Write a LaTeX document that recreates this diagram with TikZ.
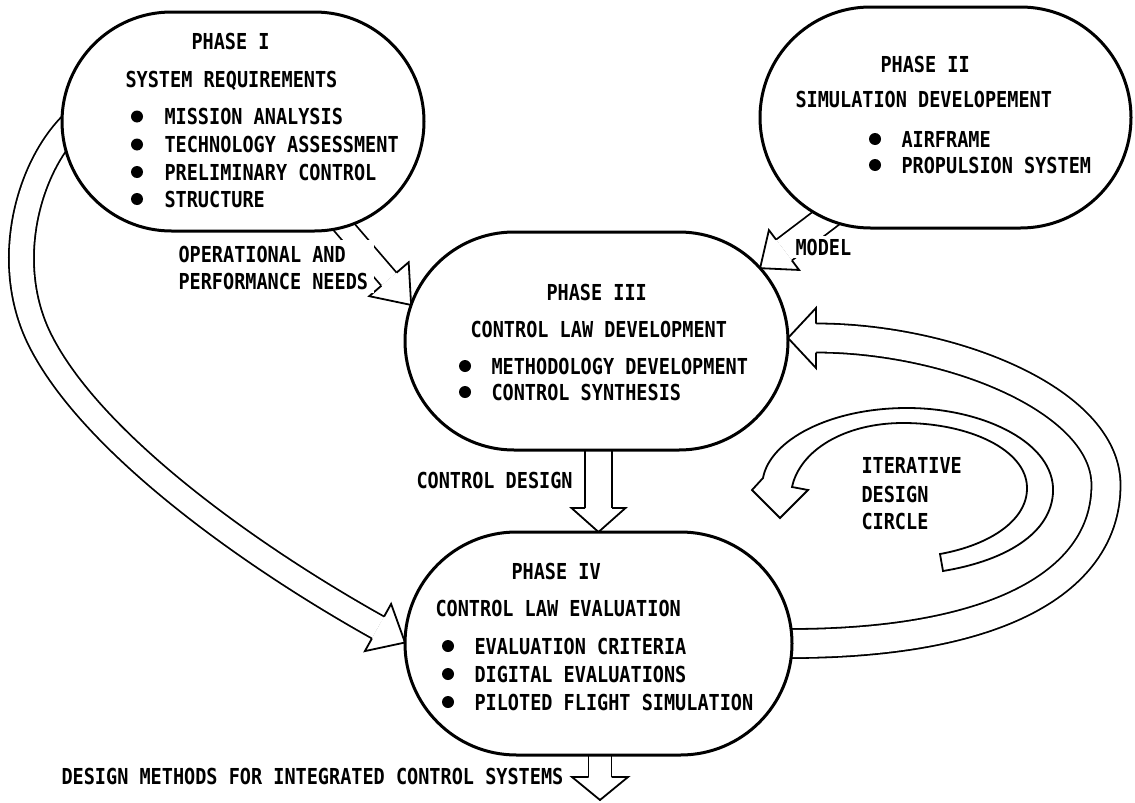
\documentclass[tikz,border=0pt]{standalone}
\usepackage{fontspec}
\setmainfont{DejaVu Sans Mono}[FakeStretch=0.842]
\usetikzlibrary{shapes.misc,calc}
\pgfdeclarelayer{bg}
\pgfsetlayers{bg,main}
\newcommand\hollowhead[4]{%
  \fill[white] ($(#1)!#4!90:(#2)$) -- (#2) -- ($(#1)!#4!-90:(#2)$) -- cycle;
  \draw[arrline] ($(#1)!#3!90:(#2)$) -- ($(#1)!#4!90:(#2)$) -- (#2) -- ($(#1)!#4!-90:(#2)$) -- ($(#1)!#3!-90:(#2)$);}
\begin{document}
\begin{tikzpicture}[x=1pt,y=-1pt,
  phase/.style={rounded rectangle, draw, line width=3pt, fill=white, inner sep=0pt, outer sep=0pt},
  txt/.style={inner sep=0pt, outer sep=0pt, anchor=base west, font=\fontsize{22}{26}\selectfont\bfseries},
  mask/.style={txt, fill=white, inner sep=3pt},
  bul/.style={circle, fill=black, inner sep=0pt, minimum size=12pt},
  arrline/.style={line width=1.8pt, line join=miter, miter limit=4},
  shaft/.style={line width=1.8pt, double=white, double distance=#1},
]
\useasboundingbox (0,0) rectangle (1135,803);

% phase nodes
\node[phase, minimum width=362pt, minimum height=219pt] (p1) at (243,121.5) {};
\node[phase, minimum width=371pt, minimum height=221pt] (p2) at (945.5,117.5) {};
\node[phase, minimum width=383pt, minimum height=218pt] (p3) at (596.5,341) {};
\node[phase, minimum width=387pt, minimum height=223pt] (p4) at (598.5,643.5) {};

% Phase I text
\node[txt] (t1a) at (191.5,49) {PHASE I};
\node[txt] (t1b) at (125.5,87) {SYSTEM REQUIREMENTS};
\node[bul] (b1a) at (137,116.5) {};
\node[txt] (t1c) at (164.5,124) {MISSION ANALYSIS};
\node[bul] (b1b) at (137,144.5) {};
\node[txt] (t1d) at (164.5,152.5) {TECHNOLOGY ASSESSMENT};
\node[bul] (b1c) at (137,172) {};
\node[txt] (t1e) at (164.5,180) {PRELIMINARY CONTROL};
\node[bul] (b1d) at (137,199) {};
\node[txt] (t1f) at (164.5,207) {STRUCTURE};

% Phase II text
\node[txt] (t2a) at (880.5,72) {PHASE II};
\node[txt] (t2b) at (795.5,107) {SIMULATION DEVELOPEMENT};
\node[bul] (b2a) at (875,139) {};
\node[txt] (t2c) at (901.5,147) {AIRFRAME};
\node[bul] (b2b) at (875,165) {};
\node[txt] (t2d) at (901.5,173) {PROPULSION SYSTEM};

% Phase III text
\node[txt] (t3a) at (546.5,300) {PHASE III};
\node[txt] (t3b) at (470.5,337) {CONTROL LAW DEVELOPMENT};
\node[bul] (b3a) at (465,366) {};
\node[txt] (t3c) at (491.5,374) {METHODOLOGY DEVELOPMENT};
\node[bul] (b3b) at (465,392) {};
\node[txt] (t3d) at (491.5,400) {CONTROL SYNTHESIS};

% Phase IV text
\node[txt] (t4a) at (511.5,579) {PHASE IV};
\node[txt] (t4b) at (435.5,616) {CONTROL LAW EVALUATION};
\node[bul] (b4a) at (448,646) {};
\node[txt] (t4c) at (474.5,654) {EVALUATION CRITERIA};
\node[bul] (b4b) at (448,674) {};
\node[txt] (t4d) at (474.5,682) {DIGITAL EVALUATIONS};
\node[bul] (b4c) at (448,702) {};
\node[txt] (t4e) at (474.5,710) {PILOTED FLIGHT SIMULATION};

% labels
\fill[white] (176,240) rectangle (374,293);
\node[txt] (l1a) at (178.5,262) {OPERATIONAL AND};
\node[txt] (l1b) at (178.5,289) {PERFORMANCE NEEDS};
\node[mask] (l2) at (792.5,255) {MODEL};
\node[txt] (l3) at (416.5,488) {CONTROL DESIGN};
\node[txt] (l4a) at (861.5,473) {ITERATIVE};
\node[txt] (l4b) at (861.5,502) {DESIGN};
\node[txt] (l4c) at (861.5,529) {CIRCLE};
\node[txt] (l5) at (61.5,784) {DESIGN METHODS FOR INTEGRATED CONTROL SYSTEMS};

\begin{pgfonlayer}{bg}
% Phase I -> Phase III
\coordinate (a1s) at ($(p1.center)+(92,95)$);
\coordinate (a1t) at (p3.169);
\coordinate (a1b) at ($(a1t)!34pt!(a1s)$);
\draw[shaft=18.2pt] (a1s) -- (a1b);
\hollowhead{a1b}{a1t}{10pt}{26pt}
% Phase II -> Phase III
\coordinate (a2s) at ($(p2.center)+(-95.5,82.5)$);
\coordinate (a2t) at (p3.24);
\coordinate (a2b) at ($(a2t)!30pt!(a2s)$);
\draw[shaft=24.2pt] (a2s) -- (a2b);
\hollowhead{a2b}{a2t}{13pt}{25pt}
% Phase III -> Phase IV
\coordinate (a3t) at (p4.north);
\coordinate (a3s) at ($(a3t |- p3.south)+(0,-20)$);
\coordinate (a3b) at ($(a3t)+(0,-24)$);
\draw[shaft=25.2pt] (a3s) -- (a3b);
\hollowhead{a3b}{a3t}{13.5pt}{27pt}
% Phase IV -> output
\coordinate (a4s) at ($(p4.south)+(1.5,-20)$);
\coordinate (a4t) at ($(p4.south)+(1.5,45)$);
\coordinate (a4b) at ($(a4t)+(0,-23)$);
\draw[shaft=21.2pt] (a4s) -- (a4b);
\hollowhead{a4b}{a4t}{11.5pt}{28pt}
% Phase I -> Phase IV (left loop)
\coordinate (a5s) at ($(p1.west)+(16,-3)$);
\coordinate (a5t) at ($(p4.west)+(0,-1)$);
\coordinate (a5b) at ($(a5t)+(-27,-15)$);
\draw[shaft=23.2pt] (a5s) .. controls (30,160) and (0,260) .. (40,340) .. controls (90,440) and (243,552) .. (a5b);
\hollowhead{a5b}{a5t}{12.5pt}{27pt}
% Phase IV -> Phase III (feedback loop)
\coordinate (a6s) at ($(p4.east)+(-10,0)$);
\coordinate (a6t) at ($(p3.east)+(0,-3)$);
\coordinate (a6b) at ($(a6t)+(28,0)$);
\draw[shaft=27.2pt] (a6s) .. controls (1000,645) and (1106,580) .. (1106,485) .. controls (1106,400) and (950,338) .. (a6b);
\hollowhead{a6b}{a6t}{14.5pt}{30pt}
\end{pgfonlayer}

% iterative design circle arrow
\draw[arrline] (940,554) -- (943,571) .. controls (1010,560) and (1055,530) .. (1053,487)
  .. controls (1050,440) and (980,408) .. (907,408)
  .. controls (830,408) and (770,440) .. (763,478)
  -- (752,490) -- (780,518) -- (808,490) -- (792,487)
  .. controls (800,450) and (845,423) .. (903,423)
  .. controls (970,423) and (1026,450) .. (1027,487)
  .. controls (1028,520) and (990,545) .. cycle;
\end{tikzpicture}
\end{document}
